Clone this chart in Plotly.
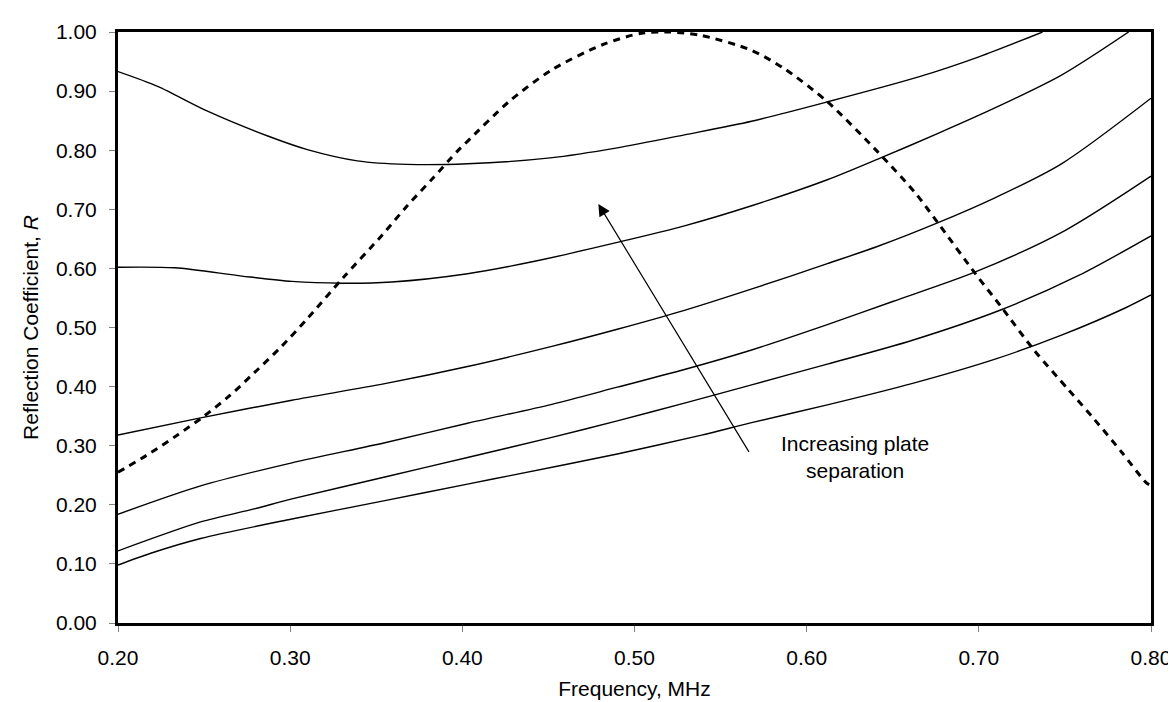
import plotly.graph_objects as go

# Data (frequency in MHz, reflection coefficient R)
xA = [0.200, 0.223, 0.252, 0.287, 0.310, 0.339, 0.368, 0.403, 0.451, 0.490, 0.529, 0.568, 0.611, 0.665, 0.700, 0.737]
yA = [0.933, 0.908, 0.866, 0.824, 0.801, 0.782, 0.776, 0.777, 0.787, 0.804, 0.826, 0.849, 0.881, 0.924, 0.958, 1.000]

xB = [0.200, 0.233, 0.272, 0.301, 0.330, 0.359, 0.403, 0.442, 0.490, 0.529, 0.568, 0.612, 0.643, 0.676, 0.709, 0.748, 0.787]
yB = [0.602, 0.601, 0.587, 0.578, 0.575, 0.577, 0.591, 0.612, 0.644, 0.672, 0.706, 0.750, 0.787, 0.828, 0.871, 0.927, 1.000]

xC = [0.200, 0.248, 0.301, 0.355, 0.403, 0.452, 0.490, 0.529, 0.570, 0.612, 0.641, 0.676, 0.709, 0.748, 0.800]
yC = [0.318, 0.347, 0.377, 0.405, 0.434, 0.468, 0.497, 0.529, 0.567, 0.608, 0.637, 0.677, 0.719, 0.777, 0.888]

xD = [0.200, 0.248, 0.301, 0.355, 0.403, 0.452, 0.490, 0.529, 0.568, 0.612, 0.650, 0.698, 0.750, 0.800]
yD = [0.184, 0.232, 0.271, 0.305, 0.338, 0.370, 0.399, 0.429, 0.462, 0.505, 0.544, 0.594, 0.664, 0.756]

xE = [0.200, 0.248, 0.279, 0.301, 0.355, 0.403, 0.452, 0.490, 0.529, 0.568, 0.612, 0.661, 0.713, 0.758, 0.800]
yE = [0.122, 0.171, 0.193, 0.210, 0.247, 0.280, 0.314, 0.342, 0.372, 0.403, 0.438, 0.478, 0.530, 0.588, 0.655]

xF = [0.200, 0.219, 0.248, 0.301, 0.355, 0.403, 0.427, 0.490, 0.539, 0.568, 0.612, 0.661, 0.709, 0.748, 0.785, 0.800]
yF = [0.098, 0.118, 0.143, 0.176, 0.207, 0.235, 0.249, 0.286, 0.318, 0.339, 0.369, 0.405, 0.446, 0.487, 0.533, 0.555]

x_dash = [0.200, 0.219, 0.235, 0.250, 0.265, 0.279, 0.295, 0.310, 0.331, 0.353, 0.368, 0.383, 0.397, 0.403,
          0.427, 0.452, 0.481, 0.504, 0.520, 0.539, 0.568, 0.587, 0.612, 0.641, 0.663, 0.676, 0.698, 0.713,
          0.732, 0.752, 0.767, 0.783, 0.797, 0.800]
y_dash = [0.255, 0.288, 0.319, 0.350, 0.385, 0.423, 0.468, 0.515, 0.585, 0.655, 0.706, 0.753, 0.798, 0.815,
          0.882, 0.936, 0.978, 0.998, 1.000, 0.994, 0.969, 0.938, 0.882, 0.798, 0.728, 0.678, 0.591, 0.535,
          0.462, 0.395, 0.345, 0.289, 0.238, 0.232]

x_ticks = [0.20, 0.30, 0.40, 0.50, 0.60, 0.70, 0.80]
y_ticks = [0.00, 0.10, 0.20, 0.30, 0.40, 0.50, 0.60, 0.70, 0.80, 0.90, 1.00]

arrow_head = (0.479, 0.709)
arrow_tail = (0.567, 0.287)
note_pos = (0.628, 0.2815)
note_text = "Increasing plate<br>separation"

FONT = "Arial, Liberation Sans, sans-serif"

fig = go.Figure()
for xs, ys in [(xA, yA), (xB, yB), (xC, yC), (xD, yD), (xE, yE), (xF, yF)]:
    fig.add_trace(go.Scatter(x=xs, y=ys, mode="lines",
                             line=dict(color="black", width=1.4, shape="spline", smoothing=0.8),
                             showlegend=False, hoverinfo="skip"))
fig.add_trace(go.Scatter(x=x_dash, y=y_dash, mode="lines",
                         line=dict(color="black", width=3, dash="7px,6px", shape="spline", smoothing=0.8),
                         showlegend=False, hoverinfo="skip"))

fig.add_annotation(x=arrow_head[0], y=arrow_head[1], ax=arrow_tail[0], ay=arrow_tail[1],
                   xref="x", yref="y", axref="x", ayref="y", text="", showarrow=True,
                   arrowhead=2, arrowsize=2.0, arrowwidth=1.2, arrowcolor="black")
fig.add_annotation(x=note_pos[0], y=note_pos[1], xref="x", yref="y", text=note_text,
                   showarrow=False, align="center", font=dict(family=FONT, size=21, color="black"))

fig.update_layout(
    width=1176, height=702,
    margin=dict(l=110, r=33, t=20, b=87),
    paper_bgcolor="white", plot_bgcolor="white",
    font=dict(family=FONT, size=21, color="black"),
)
fig.update_xaxes(range=[0.2, 0.8], tickvals=x_ticks, tickformat=".2f",
                 showgrid=False, zeroline=False, showline=True, linecolor="black", linewidth=3,
                 mirror=True, ticks="outside", ticklen=6, tickcolor="gray", tickwidth=1,
                 ticklabelstandoff=8,
                 title=dict(text="Frequency, MHz", standoff=14, font=dict(family=FONT, size=21)))
fig.update_yaxes(range=[0, 1], tickvals=y_ticks, tickformat=".2f",
                 showgrid=False, zeroline=False, showline=True, linecolor="black", linewidth=3,
                 mirror=True, ticks="outside", ticklen=6, tickcolor="gray", tickwidth=1,
                 ticklabelstandoff=8,
                 title=dict(text="Reflection Coefficient, <i>R</i>", standoff=12, font=dict(family=FONT, size=21)))

fig.write_html("out.html")
